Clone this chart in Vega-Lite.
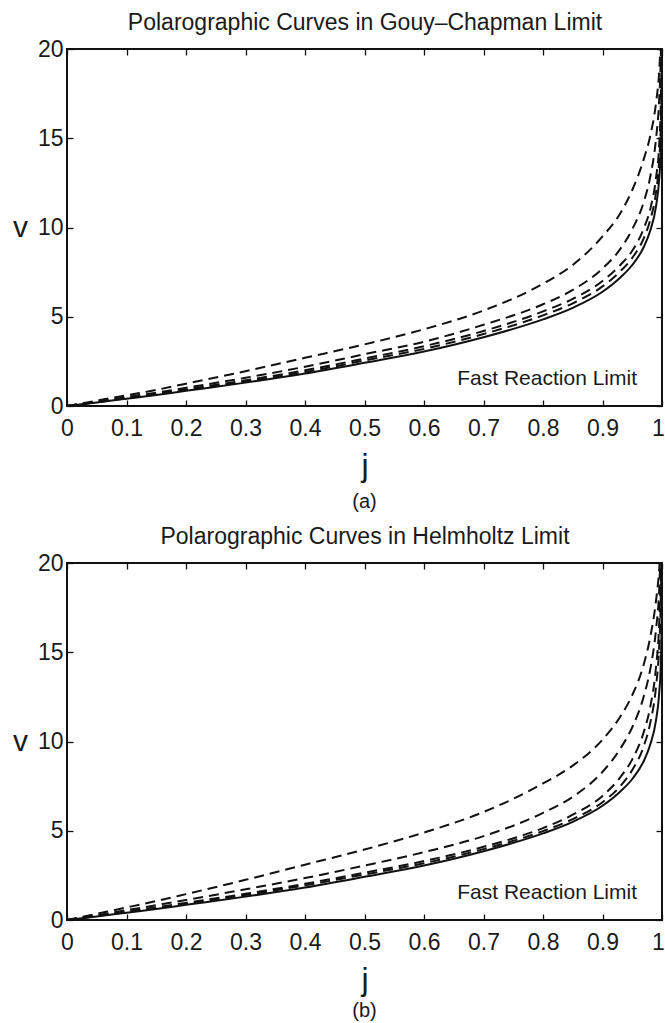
{
  "$schema": "https://vega.github.io/schema/vega-lite/v6.json",
  "background": "white",
  "padding": {"left": 11, "top": 10, "right": 3, "bottom": 0},
  "config": {
    "view": {"stroke": "#111", "strokeWidth": 2},
    "font": "Liberation Sans",
    "axis": {
      "grid": false,
      "domain": false,
      "tickColor": "#111",
      "tickWidth": 1.3,
      "tickSize": 6,
      "labelFont": "Liberation Sans",
      "labelFontSize": 23,
      "labelColor": "#1a1a1a",
      "titleFont": "Liberation Sans",
      "titleFontWeight": "normal",
      "titleColor": "#1a1a1a"
    },
    "title": {"font": "Liberation Sans", "fontWeight": "normal", "color": "#1a1a1a"}
  },
  "datasets": {
    "gc": [
      {"curve": "fast", "j": 0, "v": 0}, {"curve": "fast", "j": 0.05, "v": 0.2}, {"curve": "fast", "j": 0.1, "v": 0.41}, {"curve": "fast", "j": 0.15, "v": 0.62}, {"curve": "fast", "j": 0.2, "v": 0.85}, {"curve": "fast", "j": 0.3, "v": 1.31}, {"curve": "fast", "j": 0.4, "v": 1.82}, {"curve": "fast", "j": 0.5, "v": 2.42}, {"curve": "fast", "j": 0.6, "v": 3.05}, {"curve": "fast", "j": 0.7, "v": 3.85}, {"curve": "fast", "j": 0.8, "v": 4.85}, {"curve": "fast", "j": 0.85, "v": 5.5}, {"curve": "fast", "j": 0.9, "v": 6.4}, {"curve": "fast", "j": 0.93, "v": 7.2}, {"curve": "fast", "j": 0.95, "v": 7.9}, {"curve": "fast", "j": 0.97, "v": 8.95}, {"curve": "fast", "j": 0.98, "v": 9.8}, {"curve": "fast", "j": 0.99, "v": 11.2}, {"curve": "fast", "j": 0.995, "v": 12.6}, {"curve": "fast", "j": 0.998, "v": 14.4}, {"curve": "fast", "j": 0.999, "v": 15.8}, {"curve": "fast", "j": 0.9995, "v": 17.2}, {"curve": "fast", "j": 0.9999, "v": 20.5},
      {"curve": "k1", "j": 0, "v": 0}, {"curve": "k1", "j": 0.05, "v": 0.3}, {"curve": "k1", "j": 0.1, "v": 0.6}, {"curve": "k1", "j": 0.15, "v": 0.9}, {"curve": "k1", "j": 0.2, "v": 1.25}, {"curve": "k1", "j": 0.3, "v": 1.95}, {"curve": "k1", "j": 0.4, "v": 2.7}, {"curve": "k1", "j": 0.5, "v": 3.45}, {"curve": "k1", "j": 0.6, "v": 4.3}, {"curve": "k1", "j": 0.7, "v": 5.35}, {"curve": "k1", "j": 0.8, "v": 6.85}, {"curve": "k1", "j": 0.85, "v": 7.9}, {"curve": "k1", "j": 0.9, "v": 9.5}, {"curve": "k1", "j": 0.93, "v": 10.8}, {"curve": "k1", "j": 0.95, "v": 12.1}, {"curve": "k1", "j": 0.97, "v": 13.9}, {"curve": "k1", "j": 0.98, "v": 15.1}, {"curve": "k1", "j": 0.99, "v": 17.0}, {"curve": "k1", "j": 0.995, "v": 18.6}, {"curve": "k1", "j": 0.998, "v": 20.5},
      {"curve": "k2", "j": 0, "v": 0}, {"curve": "k2", "j": 0.05, "v": 0.24}, {"curve": "k2", "j": 0.1, "v": 0.5}, {"curve": "k2", "j": 0.15, "v": 0.75}, {"curve": "k2", "j": 0.2, "v": 1.02}, {"curve": "k2", "j": 0.3, "v": 1.58}, {"curve": "k2", "j": 0.4, "v": 2.2}, {"curve": "k2", "j": 0.5, "v": 2.9}, {"curve": "k2", "j": 0.6, "v": 3.6}, {"curve": "k2", "j": 0.7, "v": 4.55}, {"curve": "k2", "j": 0.8, "v": 5.7}, {"curve": "k2", "j": 0.85, "v": 6.5}, {"curve": "k2", "j": 0.9, "v": 7.7}, {"curve": "k2", "j": 0.93, "v": 8.8}, {"curve": "k2", "j": 0.95, "v": 9.9}, {"curve": "k2", "j": 0.97, "v": 11.5}, {"curve": "k2", "j": 0.98, "v": 12.8}, {"curve": "k2", "j": 0.99, "v": 15.0}, {"curve": "k2", "j": 0.995, "v": 17.0}, {"curve": "k2", "j": 0.998, "v": 19.5}, {"curve": "k2", "j": 0.999, "v": 21},
      {"curve": "k3", "j": 0, "v": 0}, {"curve": "k3", "j": 0.05, "v": 0.22}, {"curve": "k3", "j": 0.1, "v": 0.45}, {"curve": "k3", "j": 0.15, "v": 0.68}, {"curve": "k3", "j": 0.2, "v": 0.93}, {"curve": "k3", "j": 0.3, "v": 1.44}, {"curve": "k3", "j": 0.4, "v": 2.0}, {"curve": "k3", "j": 0.5, "v": 2.66}, {"curve": "k3", "j": 0.6, "v": 3.35}, {"curve": "k3", "j": 0.7, "v": 4.2}, {"curve": "k3", "j": 0.8, "v": 5.3}, {"curve": "k3", "j": 0.85, "v": 6.0}, {"curve": "k3", "j": 0.9, "v": 7.0}, {"curve": "k3", "j": 0.93, "v": 7.9}, {"curve": "k3", "j": 0.95, "v": 8.7}, {"curve": "k3", "j": 0.97, "v": 10.0}, {"curve": "k3", "j": 0.98, "v": 11.0}, {"curve": "k3", "j": 0.99, "v": 12.8}, {"curve": "k3", "j": 0.995, "v": 14.5}, {"curve": "k3", "j": 0.998, "v": 17.0}, {"curve": "k3", "j": 0.999, "v": 19.0}, {"curve": "k3", "j": 0.9995, "v": 21},
      {"curve": "k4", "j": 0, "v": 0}, {"curve": "k4", "j": 0.05, "v": 0.21}, {"curve": "k4", "j": 0.1, "v": 0.43}, {"curve": "k4", "j": 0.15, "v": 0.65}, {"curve": "k4", "j": 0.2, "v": 0.89}, {"curve": "k4", "j": 0.3, "v": 1.37}, {"curve": "k4", "j": 0.4, "v": 1.9}, {"curve": "k4", "j": 0.5, "v": 2.55}, {"curve": "k4", "j": 0.6, "v": 3.2}, {"curve": "k4", "j": 0.7, "v": 4.03}, {"curve": "k4", "j": 0.8, "v": 5.08}, {"curve": "k4", "j": 0.85, "v": 5.75}, {"curve": "k4", "j": 0.9, "v": 6.7}, {"curve": "k4", "j": 0.93, "v": 7.55}, {"curve": "k4", "j": 0.95, "v": 8.3}, {"curve": "k4", "j": 0.97, "v": 9.45}, {"curve": "k4", "j": 0.98, "v": 10.4}, {"curve": "k4", "j": 0.99, "v": 12.0}, {"curve": "k4", "j": 0.995, "v": 13.6}, {"curve": "k4", "j": 0.998, "v": 15.8}, {"curve": "k4", "j": 0.999, "v": 17.5}, {"curve": "k4", "j": 0.9995, "v": 19.5}, {"curve": "k4", "j": 0.9999, "v": 21}
    ],
    "hz": [
      {"curve": "fast", "j": 0, "v": 0}, {"curve": "fast", "j": 0.05, "v": 0.2}, {"curve": "fast", "j": 0.1, "v": 0.41}, {"curve": "fast", "j": 0.15, "v": 0.62}, {"curve": "fast", "j": 0.2, "v": 0.85}, {"curve": "fast", "j": 0.3, "v": 1.31}, {"curve": "fast", "j": 0.4, "v": 1.82}, {"curve": "fast", "j": 0.5, "v": 2.42}, {"curve": "fast", "j": 0.6, "v": 3.05}, {"curve": "fast", "j": 0.7, "v": 3.85}, {"curve": "fast", "j": 0.8, "v": 4.85}, {"curve": "fast", "j": 0.85, "v": 5.5}, {"curve": "fast", "j": 0.9, "v": 6.4}, {"curve": "fast", "j": 0.93, "v": 7.2}, {"curve": "fast", "j": 0.95, "v": 7.9}, {"curve": "fast", "j": 0.97, "v": 8.95}, {"curve": "fast", "j": 0.98, "v": 9.8}, {"curve": "fast", "j": 0.99, "v": 11.2}, {"curve": "fast", "j": 0.995, "v": 12.6}, {"curve": "fast", "j": 0.998, "v": 14.4}, {"curve": "fast", "j": 0.999, "v": 15.8}, {"curve": "fast", "j": 0.9995, "v": 17.2}, {"curve": "fast", "j": 0.9999, "v": 20.5},
      {"curve": "k1", "j": 0, "v": 0}, {"curve": "k1", "j": 0.05, "v": 0.35}, {"curve": "k1", "j": 0.1, "v": 0.7}, {"curve": "k1", "j": 0.15, "v": 1.06}, {"curve": "k1", "j": 0.2, "v": 1.45}, {"curve": "k1", "j": 0.3, "v": 2.25}, {"curve": "k1", "j": 0.4, "v": 3.1}, {"curve": "k1", "j": 0.5, "v": 3.95}, {"curve": "k1", "j": 0.6, "v": 4.9}, {"curve": "k1", "j": 0.7, "v": 6.05}, {"curve": "k1", "j": 0.8, "v": 7.65}, {"curve": "k1", "j": 0.85, "v": 8.65}, {"curve": "k1", "j": 0.9, "v": 10.1}, {"curve": "k1", "j": 0.93, "v": 11.4}, {"curve": "k1", "j": 0.95, "v": 12.6}, {"curve": "k1", "j": 0.97, "v": 14.4}, {"curve": "k1", "j": 0.98, "v": 15.8}, {"curve": "k1", "j": 0.99, "v": 17.9}, {"curve": "k1", "j": 0.995, "v": 19.5}, {"curve": "k1", "j": 0.998, "v": 21},
      {"curve": "k2", "j": 0, "v": 0}, {"curve": "k2", "j": 0.05, "v": 0.27}, {"curve": "k2", "j": 0.1, "v": 0.55}, {"curve": "k2", "j": 0.15, "v": 0.83}, {"curve": "k2", "j": 0.2, "v": 1.12}, {"curve": "k2", "j": 0.3, "v": 1.72}, {"curve": "k2", "j": 0.4, "v": 2.35}, {"curve": "k2", "j": 0.5, "v": 3.05}, {"curve": "k2", "j": 0.6, "v": 3.8}, {"curve": "k2", "j": 0.7, "v": 4.7}, {"curve": "k2", "j": 0.8, "v": 6.0}, {"curve": "k2", "j": 0.85, "v": 6.9}, {"curve": "k2", "j": 0.9, "v": 8.3}, {"curve": "k2", "j": 0.93, "v": 9.6}, {"curve": "k2", "j": 0.95, "v": 10.8}, {"curve": "k2", "j": 0.97, "v": 12.6}, {"curve": "k2", "j": 0.98, "v": 14.0}, {"curve": "k2", "j": 0.99, "v": 16.3}, {"curve": "k2", "j": 0.995, "v": 18.3}, {"curve": "k2", "j": 0.998, "v": 21},
      {"curve": "k3", "j": 0, "v": 0}, {"curve": "k3", "j": 0.05, "v": 0.23}, {"curve": "k3", "j": 0.1, "v": 0.47}, {"curve": "k3", "j": 0.15, "v": 0.71}, {"curve": "k3", "j": 0.2, "v": 0.96}, {"curve": "k3", "j": 0.3, "v": 1.47}, {"curve": "k3", "j": 0.4, "v": 2.03}, {"curve": "k3", "j": 0.5, "v": 2.65}, {"curve": "k3", "j": 0.6, "v": 3.3}, {"curve": "k3", "j": 0.7, "v": 4.1}, {"curve": "k3", "j": 0.8, "v": 5.15}, {"curve": "k3", "j": 0.85, "v": 5.9}, {"curve": "k3", "j": 0.9, "v": 6.95}, {"curve": "k3", "j": 0.93, "v": 8.0}, {"curve": "k3", "j": 0.95, "v": 9.0}, {"curve": "k3", "j": 0.97, "v": 10.6}, {"curve": "k3", "j": 0.98, "v": 11.9}, {"curve": "k3", "j": 0.99, "v": 14.2}, {"curve": "k3", "j": 0.995, "v": 16.4}, {"curve": "k3", "j": 0.998, "v": 19.5}, {"curve": "k3", "j": 0.999, "v": 21},
      {"curve": "k4", "j": 0, "v": 0}, {"curve": "k4", "j": 0.05, "v": 0.22}, {"curve": "k4", "j": 0.1, "v": 0.44}, {"curve": "k4", "j": 0.15, "v": 0.67}, {"curve": "k4", "j": 0.2, "v": 0.91}, {"curve": "k4", "j": 0.3, "v": 1.4}, {"curve": "k4", "j": 0.4, "v": 1.94}, {"curve": "k4", "j": 0.5, "v": 2.55}, {"curve": "k4", "j": 0.6, "v": 3.18}, {"curve": "k4", "j": 0.7, "v": 3.97}, {"curve": "k4", "j": 0.8, "v": 4.98}, {"curve": "k4", "j": 0.85, "v": 5.65}, {"curve": "k4", "j": 0.9, "v": 6.6}, {"curve": "k4", "j": 0.93, "v": 7.5}, {"curve": "k4", "j": 0.95, "v": 8.4}, {"curve": "k4", "j": 0.97, "v": 9.8}, {"curve": "k4", "j": 0.98, "v": 11.0}, {"curve": "k4", "j": 0.99, "v": 13.1}, {"curve": "k4", "j": 0.995, "v": 15.2}, {"curve": "k4", "j": 0.998, "v": 18.0}, {"curve": "k4", "j": 0.999, "v": 20.2}, {"curve": "k4", "j": 0.9995, "v": 22}
    ]
  },
  "spacing": 11,
  "vconcat": [
    {
      "width": 595,
      "height": 357,
      "title": {"text": "(a)", "orient": "bottom", "fontSize": 20, "frame": "group", "anchor": "middle", "offset": 11},
      "layer": [
        {
          "data": {"name": "gc"},
          "transform": [{"filter": "datum.curve === 'fast'"}],
          "mark": {"type": "line", "clip": true, "strokeWidth": 2, "color": "#111", "interpolate": "monotone"},
          "encoding": {
            "x": {"field": "j", "type": "quantitative", "scale": {"domain": [0, 1], "nice": false, "zero": false},
                  "axis": {"orient": "bottom", "values": [0, 0.1, 0.2, 0.3, 0.4, 0.5, 0.6, 0.7, 0.8, 0.9, 1], "format": "~g", "ticks": false, "labelPadding": 11, "labelFlush": false,
                           "labelOffset": {"condition": {"test": "datum.value >= 0.99", "value": -4}, "value": 0},
                           "title": "j", "titleFontSize": 32, "titlePadding": 10}},
            "y": {"field": "v", "type": "quantitative", "scale": {"domain": [0, 20], "nice": false},
                  "axis": {"orient": "left", "values": [0, 5, 10, 15, 20], "ticks": false, "labelPadding": 4, "labelFlush": false, "title": "v", "titleAngle": 0, "titleFontSize": 30, "titleBaseline": "middle", "titleAlign": "right", "titlePadding": 10}}
          }
        },
        {
          "data": {"name": "gc"},
          "transform": [{"filter": "datum.curve !== 'fast'"}],
          "mark": {"type": "line", "clip": true, "strokeWidth": 2, "color": "#111", "interpolate": "monotone", "strokeDash": [10, 6]},
          "encoding": {
            "x": {"field": "j", "type": "quantitative",
                  "axis": {"orient": "bottom", "offset": -6, "values": [0, 0.1, 0.2, 0.3, 0.4, 0.5, 0.6, 0.7, 0.8, 0.9, 1], "labels": false, "title": null}},
            "y": {"field": "v", "type": "quantitative",
                  "axis": {"orient": "left", "offset": -6, "values": [0, 5, 10, 15, 20], "labels": false, "title": null}},
            "detail": {"field": "curve"}
          }
        },
        {
          "data": {"values": [{}]},
          "mark": {"type": "text", "align": "right", "baseline": "middle", "fontSize": 21, "color": "#1a1a1a"},
          "encoding": {
            "text": {"value": "Fast Reaction Limit"},
            "x": {"datum": 0.958, "type": "quantitative",
                  "axis": {"orient": "top", "offset": -6, "values": [0, 0.1, 0.2, 0.3, 0.4, 0.5, 0.6, 0.7, 0.8, 0.9, 1], "labels": false, "title": "Polarographic Curves in Gouy–Chapman Limit", "titleFontSize": 23, "titlePadding": 14}},
            "y": {"datum": 1.5, "type": "quantitative",
                  "axis": {"orient": "right", "offset": -6, "values": [0, 5, 10, 15, 20], "labels": false, "title": null}}
          }
        }
      ],
      "resolve": {"axis": {"x": "independent", "y": "independent"}}
    },
    {
      "width": 595,
      "height": 357,
      "title": {"text": "(b)", "orient": "bottom", "fontSize": 20, "frame": "group", "anchor": "middle", "offset": 6},
      "layer": [
        {
          "data": {"name": "hz"},
          "transform": [{"filter": "datum.curve === 'fast'"}],
          "mark": {"type": "line", "clip": true, "strokeWidth": 2, "color": "#111", "interpolate": "monotone"},
          "encoding": {
            "x": {"field": "j", "type": "quantitative", "scale": {"domain": [0, 1], "nice": false, "zero": false},
                  "axis": {"orient": "bottom", "values": [0, 0.1, 0.2, 0.3, 0.4, 0.5, 0.6, 0.7, 0.8, 0.9, 1], "format": "~g", "ticks": false, "labelPadding": 11, "labelFlush": false,
                           "labelOffset": {"condition": {"test": "datum.value >= 0.99", "value": -4}, "value": 0},
                           "title": "j", "titleFontSize": 32, "titlePadding": 10}},
            "y": {"field": "v", "type": "quantitative", "scale": {"domain": [0, 20], "nice": false},
                  "axis": {"orient": "left", "values": [0, 5, 10, 15, 20], "ticks": false, "labelPadding": 4, "labelFlush": false, "title": "v", "titleAngle": 0, "titleFontSize": 30, "titleBaseline": "middle", "titleAlign": "right", "titlePadding": 10}}
          }
        },
        {
          "data": {"name": "hz"},
          "transform": [{"filter": "datum.curve !== 'fast'"}],
          "mark": {"type": "line", "clip": true, "strokeWidth": 2, "color": "#111", "interpolate": "monotone", "strokeDash": [10, 6]},
          "encoding": {
            "x": {"field": "j", "type": "quantitative",
                  "axis": {"orient": "bottom", "offset": -6, "values": [0, 0.1, 0.2, 0.3, 0.4, 0.5, 0.6, 0.7, 0.8, 0.9, 1], "labels": false, "title": null}},
            "y": {"field": "v", "type": "quantitative",
                  "axis": {"orient": "left", "offset": -6, "values": [0, 5, 10, 15, 20], "labels": false, "title": null}},
            "detail": {"field": "curve"}
          }
        },
        {
          "data": {"values": [{}]},
          "mark": {"type": "text", "align": "right", "baseline": "middle", "fontSize": 21, "color": "#1a1a1a"},
          "encoding": {
            "text": {"value": "Fast Reaction Limit"},
            "x": {"datum": 0.958, "type": "quantitative",
                  "axis": {"orient": "top", "offset": -6, "values": [0, 0.1, 0.2, 0.3, 0.4, 0.5, 0.6, 0.7, 0.8, 0.9, 1], "labels": false, "title": "Polarographic Curves in Helmholtz Limit", "titleFontSize": 23, "titlePadding": 14}},
            "y": {"datum": 1.5, "type": "quantitative",
                  "axis": {"orient": "right", "offset": -6, "values": [0, 5, 10, 15, 20], "labels": false, "title": null}}
          }
        }
      ],
      "resolve": {"axis": {"x": "independent", "y": "independent"}}
    }
  ]
}
